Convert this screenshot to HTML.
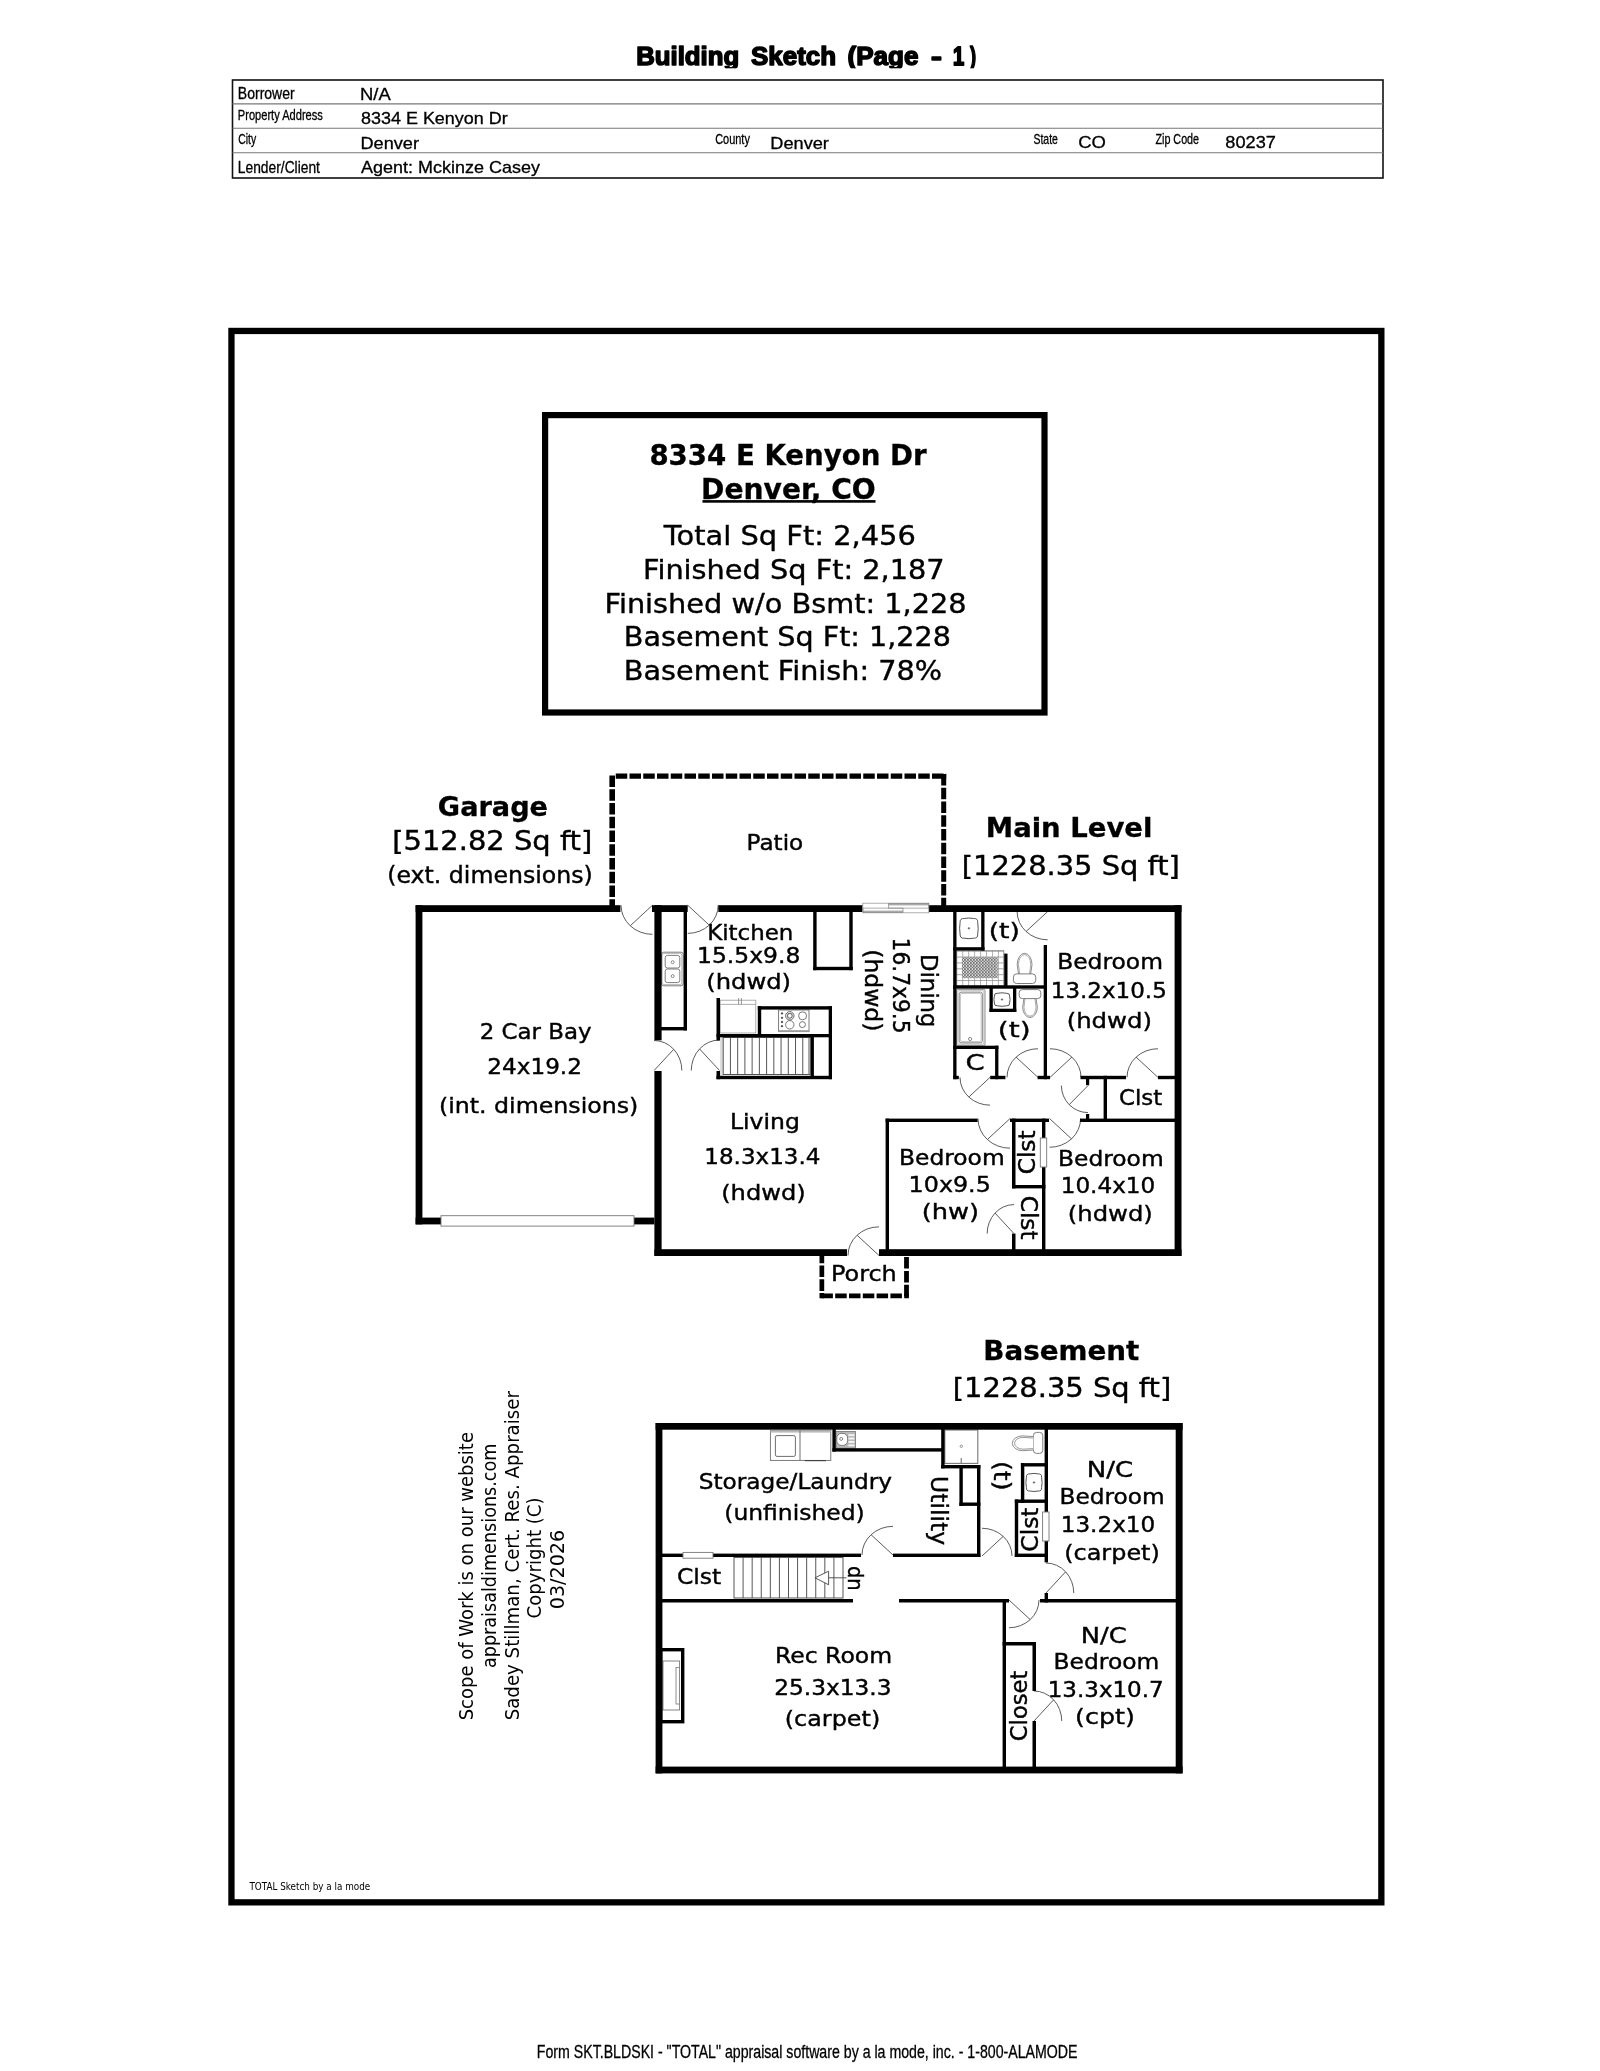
<!DOCTYPE html>
<html lang="en"><head><meta charset="utf-8"><title>Building Sketch (Page - 1)</title>
<style>html,body{margin:0;padding:0;background:#fff}svg{display:block;will-change:transform;filter:grayscale(1)}text{fill:#000}.s{stroke:#000;stroke-width:.4px}.sb{stroke:#000;stroke-width:.3px}.c{stroke:#000;stroke-width:.3px}</style></head><body>
<svg width="1600" height="2071" viewBox="0 0 1600 2071">
<rect width="1600" height="2071" fill="#fff"/>
<!-- page title -->
<clipPath id="tclip"><rect x="600" y="30" width="420" height="38.3"/></clipPath>
<g clip-path="url(#tclip)" stroke="#000" stroke-width="1.5" stroke-linejoin="round">
<text x="636.23" y="65.05" font-size="25.2" font-family="'Liberation Sans',sans-serif" font-weight="bold" textLength="102.89" lengthAdjust="spacingAndGlyphs">Building</text>
<text x="751.09" y="65.05" font-size="25.2" font-family="'Liberation Sans',sans-serif" font-weight="bold" textLength="84.91" lengthAdjust="spacingAndGlyphs">Sketch</text>
<text x="847.5" y="65.05" font-size="25.2" font-family="'Liberation Sans',sans-serif" font-weight="bold" textLength="70.97" lengthAdjust="spacingAndGlyphs">(Page</text>
<text x="930.98" y="65.3" font-size="25.2" font-family="'Liberation Sans',sans-serif" font-weight="bold" textLength="10.86" lengthAdjust="spacingAndGlyphs">-</text>
<text x="952.94" y="65.05" font-size="25.2" font-family="'Liberation Sans',sans-serif" font-weight="bold" textLength="11.18" lengthAdjust="spacingAndGlyphs" stroke-width="1.9">1</text>
<text x="970" y="65.05" font-size="25.2" font-family="'Liberation Sans',sans-serif" font-weight="bold" textLength="6.08" lengthAdjust="spacingAndGlyphs">)</text>
</g>
<!-- header table -->
<rect x="232.5" y="80" width="1150.5" height="98" fill="none" stroke="#111" stroke-width="1.6"/>
<line x1="232.5" y1="103.9" x2="1383" y2="103.9" stroke="#777" stroke-width="1.1"/>
<line x1="232.5" y1="128.3" x2="1383" y2="128.3" stroke="#777" stroke-width="1.1"/>
<line x1="232.5" y1="152.8" x2="1383" y2="152.8" stroke="#777" stroke-width="1.1"/>
<text x="237.83" y="98.9" font-size="16" font-family="'Liberation Sans',sans-serif" class="c" textLength="56.86" lengthAdjust="spacingAndGlyphs">Borrower</text>
<text x="237.86" y="120" font-size="14.2" font-family="'Liberation Sans',sans-serif" class="c" textLength="84.98" lengthAdjust="spacingAndGlyphs">Property Address</text>
<text x="238.23" y="143.8" font-size="14.2" font-family="'Liberation Sans',sans-serif" class="c" textLength="17.94" lengthAdjust="spacingAndGlyphs">City</text>
<text x="237.85" y="173.1" font-size="16" font-family="'Liberation Sans',sans-serif" class="c" textLength="82.09" lengthAdjust="spacingAndGlyphs">Lender/Client</text>
<text x="715.2" y="143.8" font-size="14.2" font-family="'Liberation Sans',sans-serif" class="c" textLength="34.69" lengthAdjust="spacingAndGlyphs">County</text>
<text x="1033.48" y="143.8" font-size="14.2" font-family="'Liberation Sans',sans-serif" class="c" textLength="24.42" lengthAdjust="spacingAndGlyphs">State</text>
<text x="1155.43" y="143.8" font-size="14.2" font-family="'Liberation Sans',sans-serif" class="c" textLength="43.68" lengthAdjust="spacingAndGlyphs">Zip Code</text>
<text x="359.98" y="99.6" font-size="17" font-family="'Liberation Sans',sans-serif" class="c" textLength="30.71" lengthAdjust="spacingAndGlyphs">N/A</text>
<text x="360.99" y="124.4" font-size="17" font-family="'Liberation Sans',sans-serif" class="c" textLength="146.73" lengthAdjust="spacingAndGlyphs">8334 E Kenyon Dr</text>
<text x="360.5" y="148.6" font-size="17" font-family="'Liberation Sans',sans-serif" class="c" textLength="58.44" lengthAdjust="spacingAndGlyphs">Denver</text>
<text x="361.11" y="173.2" font-size="17" font-family="'Liberation Sans',sans-serif" class="c" textLength="178.77" lengthAdjust="spacingAndGlyphs">Agent: Mckinze Casey</text>
<text x="770.29" y="148.6" font-size="17" font-family="'Liberation Sans',sans-serif" class="c" textLength="58.65" lengthAdjust="spacingAndGlyphs">Denver</text>
<text x="1078.23" y="148.4" font-size="17" font-family="'Liberation Sans',sans-serif" class="c" textLength="27.7" lengthAdjust="spacingAndGlyphs">CO</text>
<text x="1225.38" y="148.4" font-size="17" font-family="'Liberation Sans',sans-serif" class="c" textLength="50.55" lengthAdjust="spacingAndGlyphs">80237</text>
<text x="536.82" y="2058" font-size="18.6" font-family="'Liberation Sans',sans-serif" class="c" textLength="540.64" lengthAdjust="spacingAndGlyphs">Form SKT.BLDSKI - &quot;TOTAL&quot; appraisal software by a la mode, inc. - 1-800-ALAMODE</text>
<rect x="231.45" y="330.95" width="1149.9" height="1571.4" fill="none" stroke="#000" stroke-width="6.3"/>
<text x="249.44" y="1890" font-size="9.6" font-family="'DejaVu Sans','Liberation Sans',sans-serif" textLength="120.82" lengthAdjust="spacingAndGlyphs">TOTAL Sketch by a la mode</text>
<rect x="545.1" y="415.1" width="499.4" height="297.4" fill="none" stroke="#000" stroke-width="6.2"/>
<text x="649.39" y="464.9" font-size="28.6" font-family="'DejaVu Sans','Liberation Sans',sans-serif" font-weight="bold" class="sb" textLength="277.23" lengthAdjust="spacingAndGlyphs">8334 E Kenyon Dr</text>
<text x="701.12" y="498.9" font-size="28.6" font-family="'DejaVu Sans','Liberation Sans',sans-serif" font-weight="bold" class="sb" textLength="174.67" lengthAdjust="spacingAndGlyphs">Denver, CO</text>
<rect x="702.5" y="500.1" width="173" height="2.6" fill="#000"/>
<text x="663.89" y="545" font-size="27" font-family="'DejaVu Sans','Liberation Sans',sans-serif" class="s" textLength="251.91" lengthAdjust="spacingAndGlyphs">Total Sq Ft: 2,456</text>
<text x="642.94" y="578.8" font-size="27" font-family="'DejaVu Sans','Liberation Sans',sans-serif" class="s" textLength="301.74" lengthAdjust="spacingAndGlyphs">Finished Sq Ft: 2,187</text>
<text x="604.44" y="612.5" font-size="27" font-family="'DejaVu Sans','Liberation Sans',sans-serif" class="s" textLength="362.25" lengthAdjust="spacingAndGlyphs">Finished w/o Bsmt: 1,228</text>
<text x="623.86" y="645.5" font-size="27" font-family="'DejaVu Sans','Liberation Sans',sans-serif" class="s" textLength="327.04" lengthAdjust="spacingAndGlyphs">Basement Sq Ft: 1,228</text>
<text x="623.85" y="680" font-size="27" font-family="'DejaVu Sans','Liberation Sans',sans-serif" class="s" textLength="318.07" lengthAdjust="spacingAndGlyphs">Basement Finish: 78%</text>
<!-- main level -->
<line x1="652.5" y1="905.2" x2="630.23" y2="925.8" stroke="#4a4a4a" stroke-width="0.9"/>
<path d="M621 905.2A31.5 29.14 0 0 0 652.5 934.34" fill="none" stroke="#4a4a4a" stroke-width="0.9"/>
<line x1="687.7" y1="905.2" x2="709.27" y2="925.15" stroke="#4a4a4a" stroke-width="0.9"/>
<path d="M718.2 905.2A30.5 28.21 0 0 1 687.7 933.41" fill="none" stroke="#4a4a4a" stroke-width="0.9"/>
<line x1="654.1" y1="1070.5" x2="673.72" y2="1049.29" stroke="#4a4a4a" stroke-width="0.9"/>
<path d="M654.1 1040.5A27.75 30 0 0 1 681.85 1070.5" fill="none" stroke="#4a4a4a" stroke-width="0.9"/>
<line x1="719.5" y1="1070.5" x2="699.55" y2="1048.93" stroke="#4a4a4a" stroke-width="0.9"/>
<path d="M719.5 1040A28.21 30.5 0 0 0 691.29 1070.5" fill="none" stroke="#4a4a4a" stroke-width="0.9"/>
<line x1="879" y1="1255.5" x2="857.08" y2="1235.22" stroke="#4a4a4a" stroke-width="0.9"/>
<path d="M848 1255.5A31 28.68 0 0 1 879 1226.83" fill="none" stroke="#4a4a4a" stroke-width="0.9"/>
<line x1="1047.7" y1="911.5" x2="1026.06" y2="931.51" stroke="#4a4a4a" stroke-width="0.9"/>
<path d="M1017.1 911.5A30.6 28.31 0 0 0 1047.7 939.8" fill="none" stroke="#4a4a4a" stroke-width="0.9"/>
<line x1="990" y1="1077.4" x2="968.79" y2="1097.02" stroke="#4a4a4a" stroke-width="0.9"/>
<path d="M960 1077.4A30 27.75 0 0 0 990 1105.15" fill="none" stroke="#4a4a4a" stroke-width="0.9"/>
<line x1="1038" y1="1077.4" x2="1016.08" y2="1057.12" stroke="#4a4a4a" stroke-width="0.9"/>
<path d="M1007 1077.4A31 28.68 0 0 1 1038 1048.73" fill="none" stroke="#4a4a4a" stroke-width="0.9"/>
<line x1="1050" y1="1077.4" x2="1071.92" y2="1057.12" stroke="#4a4a4a" stroke-width="0.9"/>
<path d="M1081 1077.4A31 28.68 0 0 0 1050 1048.73" fill="none" stroke="#4a4a4a" stroke-width="0.9"/>
<line x1="1158" y1="1077.4" x2="1136.08" y2="1057.12" stroke="#4a4a4a" stroke-width="0.9"/>
<path d="M1127 1077.4A31 28.68 0 0 1 1158 1048.73" fill="none" stroke="#4a4a4a" stroke-width="0.9"/>
<line x1="1088" y1="1085.6" x2="1069.19" y2="1104.69" stroke="#4a4a4a" stroke-width="0.9"/>
<path d="M1088 1112.6A26.6 27 0 0 1 1061.4 1085.6" fill="none" stroke="#4a4a4a" stroke-width="0.9"/>
<line x1="1010" y1="1118.6" x2="987.37" y2="1139.53" stroke="#4a4a4a" stroke-width="0.9"/>
<path d="M978 1118.6A32 29.6 0 0 0 1010 1148.2" fill="none" stroke="#4a4a4a" stroke-width="0.9"/>
<line x1="1049.6" y1="1118.6" x2="1071.52" y2="1138.88" stroke="#4a4a4a" stroke-width="0.9"/>
<path d="M1080.6 1118.6A31 28.68 0 0 1 1049.6 1147.27" fill="none" stroke="#4a4a4a" stroke-width="0.9"/>
<line x1="1014" y1="1233.6" x2="995.03" y2="1213.09" stroke="#4a4a4a" stroke-width="0.9"/>
<path d="M1014 1204.6A26.83 29 0 0 0 987.17 1233.6" fill="none" stroke="#4a4a4a" stroke-width="0.9"/>
<rect x="720" y="1037.3" width="3.2" height="38.5" fill="#ddd"/>
<rect x="723.2" y="1037.5" width="86.8" height="37" fill="#fff" stroke="#444" stroke-width="0.9"/>
<line x1="730.43" y1="1037.5" x2="730.43" y2="1074.5" stroke="#444" stroke-width="0.9"/>
<line x1="737.67" y1="1037.5" x2="737.67" y2="1074.5" stroke="#444" stroke-width="0.9"/>
<line x1="744.9" y1="1037.5" x2="744.9" y2="1074.5" stroke="#444" stroke-width="0.9"/>
<line x1="752.13" y1="1037.5" x2="752.13" y2="1074.5" stroke="#444" stroke-width="0.9"/>
<line x1="759.37" y1="1037.5" x2="759.37" y2="1074.5" stroke="#444" stroke-width="0.9"/>
<line x1="766.6" y1="1037.5" x2="766.6" y2="1074.5" stroke="#444" stroke-width="0.9"/>
<line x1="773.83" y1="1037.5" x2="773.83" y2="1074.5" stroke="#444" stroke-width="0.9"/>
<line x1="781.07" y1="1037.5" x2="781.07" y2="1074.5" stroke="#444" stroke-width="0.9"/>
<line x1="788.3" y1="1037.5" x2="788.3" y2="1074.5" stroke="#444" stroke-width="0.9"/>
<line x1="795.53" y1="1037.5" x2="795.53" y2="1074.5" stroke="#444" stroke-width="0.9"/>
<line x1="802.77" y1="1037.5" x2="802.77" y2="1074.5" stroke="#444" stroke-width="0.9"/>
<line x1="808.6" y1="1037.5" x2="808.6" y2="1074.5" stroke="#888" stroke-width="0.8"/>
<rect x="661.4" y="952.2" width="21.8" height="33.6" rx="2.2" fill="#fff" stroke="#6e6e6e" stroke-width="0.9"/>
<rect x="662.2" y="953.4" width="19.6" height="31.2" rx="2" fill="none" stroke="#9a9a9a" stroke-width="0.7"/>
<rect x="665.2" y="955.4" width="14.6" height="12.6" rx="2.2" fill="none" stroke="#6e6e6e" stroke-width="0.9"/>
<rect x="665.2" y="969" width="14.6" height="13.6" rx="2.2" fill="none" stroke="#6e6e6e" stroke-width="0.9"/>
<circle cx="672.7" cy="962.2" r="1.5" fill="none" stroke="#6e6e6e" stroke-width="0.8"/>
<circle cx="672.7" cy="976.1" r="1.5" fill="none" stroke="#6e6e6e" stroke-width="0.8"/>
<rect x="720.2" y="1000.2" width="35.6" height="32.8" fill="#fff" stroke="#9a9a9a" stroke-width="0.8"/>
<line x1="720.2" y1="1004.4" x2="755.8" y2="1004.4" stroke="#9a9a9a" stroke-width="0.8"/>
<line x1="738.6" y1="998" x2="738.6" y2="1004.4" stroke="#6e6e6e" stroke-width="0.7"/>
<line x1="741.4" y1="998" x2="741.4" y2="1004.4" stroke="#6e6e6e" stroke-width="0.7"/>
<rect x="778.6" y="1010" width="30.4" height="21.6" fill="#fff" stroke="#6e6e6e" stroke-width="0.9"/>
<rect x="778.6" y="1030.2" width="30.4" height="1.8" fill="#9a9a9a"/>
<circle cx="789.8" cy="1015.8" r="4.2" fill="none" stroke="#555" stroke-width="0.9"/>
<circle cx="789.8" cy="1015.8" r="2.4" fill="none" stroke="#777" stroke-width="1.2"/>
<circle cx="802.6" cy="1015.8" r="4" fill="none" stroke="#555" stroke-width="0.8"/>
<circle cx="789.8" cy="1024.8" r="4.2" fill="none" stroke="#555" stroke-width="0.8"/>
<circle cx="802.4" cy="1024.6" r="3" fill="none" stroke="#555" stroke-width="0.8"/>
<circle cx="782" cy="1013.4" r="0.9" fill="#333" stroke="#333" stroke-width="0.3"/>
<circle cx="782" cy="1017.8" r="0.9" fill="#333" stroke="#333" stroke-width="0.3"/>
<circle cx="782" cy="1022" r="0.9" fill="#333" stroke="#333" stroke-width="0.3"/>
<circle cx="782" cy="1026.2" r="0.9" fill="#333" stroke="#333" stroke-width="0.3"/>
<path d="M964.17 918.5Q968.9 917.5 973.63 918.5Q978 918.2 977.7 922.57Q978.7 928.35 977.7 934.13Q978 938.5 973.63 938.2Q968.9 939.2 964.17 938.2Q959.8 938.5 960.1 934.13Q959.1 928.35 960.1 922.57Q959.8 918.2 964.17 918.5Z" fill="#fff" stroke="#555" stroke-width="1" stroke-linejoin="round"/>
<circle cx="968.9" cy="928.35" r="0.8" fill="#555" stroke="#555" stroke-width="0.5"/>
<pattern id="xh" x="961.9" y="956.8" width="2.98" height="3.06" patternUnits="userSpaceOnUse"><path d="M0 0L2.98 3.06M2.98 0L0 3.06" stroke="#111" stroke-width="0.58"/></pattern>
<pattern id="tl" x="956.3" y="950.7" width="5.94" height="5.87" patternUnits="userSpaceOnUse"><rect width="5.94" height="5.87" fill="#fff"/><path d="M0 0H5.94M0 0V5.87" stroke="#888" stroke-width="1.3"/></pattern>
<rect x="956.3" y="950.7" width="47.5" height="35.2" fill="url(#tl)" stroke="#888" stroke-width="0.9"/>
<rect x="961.9" y="956.8" width="35.8" height="21.4" fill="#fff"/>
<rect x="961.9" y="956.8" width="35.8" height="21.4" fill="url(#xh)"/>
<path d="M1018.53 973.9L1017.2 964.63A7.4 11.33 0 0 1 1032 964.63L1030.67 973.9" fill="#fff" stroke="#6e6e6e" stroke-width="0.8"/>
<path d="M1019.6 973.9L1018.5 964.63A6.1 10.03 0 0 1 1030.7 964.63L1029.6 973.9" fill="none" stroke="#6e6e6e" stroke-width="0.6"/>
<rect x="1013.45" y="973.9" width="22.3" height="9.6" rx="3.2" fill="#fff" stroke="#6e6e6e" stroke-width="0.9"/>
<path d="M1023.97 998.6L1022.65 1007.11A7.35 10.39 0 0 0 1037.35 1007.11L1036.03 998.6" fill="#fff" stroke="#6e6e6e" stroke-width="0.8"/>
<path d="M1025.04 998.6L1023.95 1007.11A6.05 9.09 0 0 0 1036.05 1007.11L1034.96 998.6" fill="none" stroke="#6e6e6e" stroke-width="0.6"/>
<rect x="1019.15" y="989.6" width="21.7" height="9" rx="3.2" fill="#fff" stroke="#6e6e6e" stroke-width="0.9"/>
<rect x="956.6" y="989.5" width="28.4" height="55.7" rx="1" fill="#fff" stroke="#9a9a9a" stroke-width="1.1"/>
<rect x="957.8" y="990.7" width="26" height="53.3" rx="1" fill="none" stroke="#9a9a9a" stroke-width="0.6"/>
<rect x="959.2" y="992.2" width="23.2" height="50.6" rx="2" fill="none" stroke="#6e6e6e" stroke-width="0.8"/>
<rect x="960.4" y="993.4" width="20.8" height="48.2" rx="1.6" fill="none" stroke="#9a9a9a" stroke-width="0.6"/>
<circle cx="970.1" cy="1039" r="1.6" fill="none" stroke="#6e6e6e" stroke-width="0.8"/>
<path d="M997.24 993.3Q1002 992.3 1006.76 993.3Q1009.9 993 1009.6 996.14Q1010.6 999.55 1009.6 1002.96Q1009.9 1006.1 1006.76 1005.8Q1002 1006.8 997.24 1005.8Q994.1 1006.1 994.4 1002.96Q993.4 999.55 994.4 996.14Q994.1 993 997.24 993.3Z" fill="#fff" stroke="#555" stroke-width="1" stroke-linejoin="round"/>
<circle cx="1002" cy="999.55" r="0.8" fill="#555" stroke="#555" stroke-width="0.5"/>
<line x1="612.2" y1="910.8" x2="612.2" y2="773.5" stroke="#000" stroke-width="5.6" stroke-dasharray="11.5 2.25"/>
<line x1="615.75" y1="776.15" x2="946.2" y2="776.15" stroke="#000" stroke-width="5.3" stroke-dasharray="11.5 2.25"/>
<line x1="943.7" y1="774" x2="943.7" y2="910" stroke="#000" stroke-width="5" stroke-dasharray="11.5 2.25"/>
<line x1="821.85" y1="1251.6" x2="821.85" y2="1298.2" stroke="#000" stroke-width="4.7" stroke-dasharray="11.7 2.1"/>
<line x1="821.4" y1="1295.8" x2="908.9" y2="1295.8" stroke="#000" stroke-width="4.8" stroke-dasharray="11.5 2.3"/>
<line x1="906.5" y1="1296.3" x2="906.5" y2="1256" stroke="#000" stroke-width="4.8" stroke-dasharray="11.5 2.4"/>
<rect x="415.6" y="905.2" width="204.8" height="6.8" fill="#000"/>
<rect x="652" y="905.2" width="35.7" height="6.8" fill="#000"/>
<rect x="718.3" y="905.2" width="144.4" height="6.8" fill="#000"/>
<rect x="928.6" y="905.2" width="252.9" height="6.8" fill="#000"/>
<rect x="415.6" y="905.2" width="6.8" height="319.2" fill="#000"/>
<rect x="415.6" y="1217.6" width="25.4" height="6.8" fill="#000"/>
<rect x="634" y="1217.6" width="20.4" height="6.8" fill="#000"/>
<rect x="654.4" y="905.2" width="7.2" height="135.1" fill="#000"/>
<rect x="654.4" y="1071" width="7.2" height="185" fill="#000"/>
<rect x="654.4" y="1249.2" width="192.6" height="6.8" fill="#000"/>
<rect x="879" y="1249.2" width="302.5" height="6.8" fill="#000"/>
<rect x="1174.6" y="905.2" width="6.9" height="350.8" fill="#000"/>
<rect x="441" y="1215.7" width="193" height="10.4" fill="#fff" stroke="#777" stroke-width="0.9"/>
<rect x="862.8" y="903.2" width="66" height="9.6" fill="#fff" stroke="#999" stroke-width="0.8"/>
<rect x="888.5" y="903.6" width="40.1" height="1.8" fill="#aaa"/>
<rect x="863" y="910.6" width="40" height="1.8" fill="#aaa"/>
<rect x="888.5" y="903.4" width="40.2" height="4.7" fill="none" stroke="#888" stroke-width="0.7"/>
<rect x="863" y="908.1" width="40" height="4.5" fill="none" stroke="#888" stroke-width="0.7"/>
<rect x="683.6" y="911" width="3.4" height="119.4" fill="#000"/>
<rect x="661" y="1027" width="26" height="3.4" fill="#000"/>
<rect x="813.2" y="911" width="3.4" height="59.2" fill="#000"/>
<rect x="849.3" y="911" width="3.4" height="59.2" fill="#000"/>
<rect x="813.2" y="966.8" width="39.5" height="3.4" fill="#000"/>
<rect x="716.5" y="998" width="3.5" height="42.5" fill="#000"/>
<rect x="716.5" y="1071" width="3.5" height="8.2" fill="#000"/>
<rect x="716.5" y="1034" width="115.5" height="3.3" fill="#000"/>
<rect x="716.5" y="1075.8" width="115.5" height="3.4" fill="#000"/>
<rect x="828.7" y="1006.2" width="3.3" height="73" fill="#000"/>
<rect x="757.8" y="1006.2" width="3.4" height="30.8" fill="#000"/>
<rect x="757.8" y="1006.2" width="74.2" height="3.4" fill="#000"/>
<rect x="810.5" y="1037" width="3.4" height="39" fill="#000"/>
<rect x="953.2" y="911" width="3.3" height="168.2" fill="#000"/>
<rect x="981.2" y="911" width="3.3" height="39.5" fill="#000"/>
<rect x="953.2" y="947.2" width="31.3" height="3.3" fill="#000"/>
<rect x="1004.2" y="953.6" width="3.3" height="34.4" fill="#000"/>
<rect x="953.2" y="985.3" width="93.8" height="3.4" fill="#000"/>
<rect x="1043.7" y="945" width="3.3" height="134.2" fill="#000"/>
<rect x="989.5" y="988" width="3.3" height="24" fill="#000"/>
<rect x="1013" y="988" width="3.3" height="24" fill="#000"/>
<rect x="989.5" y="1008.7" width="26.8" height="3.3" fill="#000"/>
<rect x="953.2" y="1045.7" width="45.2" height="3.3" fill="#000"/>
<rect x="995.1" y="1045.7" width="3.3" height="33.5" fill="#000"/>
<rect x="953.2" y="1075.8" width="5.6" height="3.4" fill="#000"/>
<rect x="990.2" y="1075.8" width="15.2" height="3.4" fill="#000"/>
<rect x="1037.6" y="1075.8" width="12.4" height="3.4" fill="#000"/>
<rect x="1080.5" y="1075.8" width="45.5" height="3.4" fill="#000"/>
<rect x="1158" y="1075.8" width="17" height="3.4" fill="#000"/>
<rect x="1103.6" y="1075.8" width="3.4" height="46.2" fill="#000"/>
<rect x="1086" y="1079" width="3.2" height="6.2" fill="#000"/>
<rect x="1086" y="1114" width="3.2" height="5" fill="#000"/>
<rect x="1080" y="1118.6" width="95" height="3.4" fill="#000"/>
<rect x="885.6" y="1118.6" width="3.4" height="131.4" fill="#000"/>
<rect x="885.6" y="1118.6" width="92" height="3.4" fill="#000"/>
<rect x="1010" y="1118.6" width="39" height="3.4" fill="#000"/>
<rect x="1012" y="1118.6" width="3.5" height="69.8" fill="#000"/>
<rect x="1012" y="1233.6" width="3.5" height="16.4" fill="#000"/>
<rect x="1042" y="1118.6" width="3.4" height="131.4" fill="#000"/>
<rect x="1012" y="1185" width="33.4" height="3.4" fill="#000"/>
<rect x="1040.3" y="1138" width="6.4" height="29" fill="#fff" stroke="#777" stroke-width="0.9"/>
<text x="437.89" y="816" font-size="26.5" font-family="'DejaVu Sans','Liberation Sans',sans-serif" font-weight="bold" class="sb" textLength="110.15" lengthAdjust="spacingAndGlyphs">Garage</text>
<text x="392.19" y="849.6" font-size="26.3" font-family="'DejaVu Sans','Liberation Sans',sans-serif" class="s" textLength="200.06" lengthAdjust="spacingAndGlyphs">[512.82 Sq ft]</text>
<text x="387.24" y="882.5" font-size="22.2" font-family="'DejaVu Sans','Liberation Sans',sans-serif" class="s" textLength="205.49" lengthAdjust="spacingAndGlyphs">(ext. dimensions)</text>
<text x="746.49" y="850" font-size="21.8" font-family="'DejaVu Sans','Liberation Sans',sans-serif" class="s" textLength="56.73" lengthAdjust="spacingAndGlyphs">Patio</text>
<text x="985.78" y="837.4" font-size="26.5" font-family="'DejaVu Sans','Liberation Sans',sans-serif" font-weight="bold" class="sb" textLength="166.67" lengthAdjust="spacingAndGlyphs">Main Level</text>
<text x="961.79" y="875" font-size="26.3" font-family="'DejaVu Sans','Liberation Sans',sans-serif" class="s" textLength="218.01" lengthAdjust="spacingAndGlyphs">[1228.35 Sq ft]</text>
<text x="707.22" y="940.1" font-size="21.8" font-family="'DejaVu Sans','Liberation Sans',sans-serif" class="s" textLength="86.15" lengthAdjust="spacingAndGlyphs">Kitchen</text>
<text x="697.07" y="962.9" font-size="21.8" font-family="'DejaVu Sans','Liberation Sans',sans-serif" class="s" textLength="103.29" lengthAdjust="spacingAndGlyphs">15.5x9.8</text>
<text x="706.19" y="989.2" font-size="21.8" font-family="'DejaVu Sans','Liberation Sans',sans-serif" class="s" textLength="84.9" lengthAdjust="spacingAndGlyphs">(hdwd)</text>
<text transform="translate(920.9 956.25) rotate(90)" x="-2.21" y="0" font-size="22.4" font-family="'DejaVu Sans','Liberation Sans',sans-serif" class="s" textLength="73.32" lengthAdjust="spacingAndGlyphs">Dining</text>
<text transform="translate(893.1 940) rotate(90)" x="-2.39" y="0" font-size="23.4" font-family="'DejaVu Sans','Liberation Sans',sans-serif" class="s" textLength="95.87" lengthAdjust="spacingAndGlyphs">16.7x9.5</text>
<text transform="translate(864.7 951.25) rotate(90)" x="-1.99" y="0" font-size="22.6" font-family="'DejaVu Sans','Liberation Sans',sans-serif" class="s" textLength="82.11" lengthAdjust="spacingAndGlyphs">(hdwd)</text>
<text x="988.69" y="937.5" font-size="21.8" font-family="'DejaVu Sans','Liberation Sans',sans-serif" class="s" textLength="31.23" lengthAdjust="spacingAndGlyphs">(t)</text>
<text x="997.88" y="1036.8" font-size="21.8" font-family="'DejaVu Sans','Liberation Sans',sans-serif" class="s" textLength="32.75" lengthAdjust="spacingAndGlyphs">(t)</text>
<text x="965.64" y="1069.6" font-size="21.8" font-family="'DejaVu Sans','Liberation Sans',sans-serif" class="s" textLength="19.17" lengthAdjust="spacingAndGlyphs">C</text>
<text x="1057.17" y="969" font-size="21.8" font-family="'DejaVu Sans','Liberation Sans',sans-serif" class="s" textLength="105.82" lengthAdjust="spacingAndGlyphs">Bedroom</text>
<text x="1050.82" y="997.8" font-size="21.8" font-family="'DejaVu Sans','Liberation Sans',sans-serif" class="s" textLength="115.98" lengthAdjust="spacingAndGlyphs">13.2x10.5</text>
<text x="1066.68" y="1027.9" font-size="21.8" font-family="'DejaVu Sans','Liberation Sans',sans-serif" class="s" textLength="85.21" lengthAdjust="spacingAndGlyphs">(hdwd)</text>
<text x="479.69" y="1038.8" font-size="21.8" font-family="'DejaVu Sans','Liberation Sans',sans-serif" class="s" textLength="111.84" lengthAdjust="spacingAndGlyphs">2 Car Bay</text>
<text x="487.37" y="1074.3" font-size="21.8" font-family="'DejaVu Sans','Liberation Sans',sans-serif" class="s" textLength="94.55" lengthAdjust="spacingAndGlyphs">24x19.2</text>
<text x="438.94" y="1113.4" font-size="21.8" font-family="'DejaVu Sans','Liberation Sans',sans-serif" class="s" textLength="199.35" lengthAdjust="spacingAndGlyphs">(int. dimensions)</text>
<text x="729.96" y="1129" font-size="21.8" font-family="'DejaVu Sans','Liberation Sans',sans-serif" class="s" textLength="69.93" lengthAdjust="spacingAndGlyphs">Living</text>
<text x="704.32" y="1163.6" font-size="21.8" font-family="'DejaVu Sans','Liberation Sans',sans-serif" class="s" textLength="116.1" lengthAdjust="spacingAndGlyphs">18.3x13.4</text>
<text x="721.2" y="1200" font-size="21.8" font-family="'DejaVu Sans','Liberation Sans',sans-serif" class="s" textLength="84.58" lengthAdjust="spacingAndGlyphs">(hdwd)</text>
<text x="830.92" y="1281" font-size="21.8" font-family="'DejaVu Sans','Liberation Sans',sans-serif" class="s" textLength="65.86" lengthAdjust="spacingAndGlyphs">Porch</text>
<text x="1118.99" y="1105" font-size="21.8" font-family="'DejaVu Sans','Liberation Sans',sans-serif" class="s" textLength="43.26" lengthAdjust="spacingAndGlyphs">Clst</text>
<text x="898.97" y="1165.4" font-size="21.8" font-family="'DejaVu Sans','Liberation Sans',sans-serif" class="s" textLength="105.72" lengthAdjust="spacingAndGlyphs">Bedroom</text>
<text x="908.63" y="1192" font-size="21.8" font-family="'DejaVu Sans','Liberation Sans',sans-serif" class="s" textLength="82.19" lengthAdjust="spacingAndGlyphs">10x9.5</text>
<text x="921.67" y="1219.4" font-size="21.8" font-family="'DejaVu Sans','Liberation Sans',sans-serif" class="s" textLength="57.25" lengthAdjust="spacingAndGlyphs">(hw)</text>
<text x="1057.97" y="1166.4" font-size="21.8" font-family="'DejaVu Sans','Liberation Sans',sans-serif" class="s" textLength="105.72" lengthAdjust="spacingAndGlyphs">Bedroom</text>
<text x="1060.71" y="1193" font-size="21.8" font-family="'DejaVu Sans','Liberation Sans',sans-serif" class="s" textLength="94.57" lengthAdjust="spacingAndGlyphs">10.4x10</text>
<text x="1067.79" y="1221" font-size="21.8" font-family="'DejaVu Sans','Liberation Sans',sans-serif" class="s" textLength="85" lengthAdjust="spacingAndGlyphs">(hdwd)</text>
<text transform="translate(1035 1173) rotate(-90)" x="-1.27" y="0" font-size="23" font-family="'DejaVu Sans','Liberation Sans',sans-serif" class="s" textLength="43.78" lengthAdjust="spacingAndGlyphs">Clst</text>
<text transform="translate(1020.6 1197) rotate(90)" x="-1.27" y="0" font-size="23" font-family="'DejaVu Sans','Liberation Sans',sans-serif" class="s" textLength="43.78" lengthAdjust="spacingAndGlyphs">Clst</text>
<!-- basement -->
<line x1="893" y1="1555" x2="871.08" y2="1534.72" stroke="#4a4a4a" stroke-width="0.9"/>
<path d="M862 1555A31 28.68 0 0 1 893 1526.33" fill="none" stroke="#4a4a4a" stroke-width="0.9"/>
<line x1="982" y1="1556" x2="1003.21" y2="1536.38" stroke="#4a4a4a" stroke-width="0.9"/>
<path d="M1012 1556A30 27.75 0 0 0 982 1528.25" fill="none" stroke="#4a4a4a" stroke-width="0.9"/>
<line x1="1046" y1="1593" x2="1065.62" y2="1571.79" stroke="#4a4a4a" stroke-width="0.9"/>
<path d="M1046 1563A27.75 30 0 0 1 1073.75 1593" fill="none" stroke="#4a4a4a" stroke-width="0.9"/>
<line x1="1009" y1="1600" x2="1030.21" y2="1619.62" stroke="#4a4a4a" stroke-width="0.9"/>
<path d="M1039 1600A30 27.75 0 0 1 1009 1627.75" fill="none" stroke="#4a4a4a" stroke-width="0.9"/>
<line x1="1034" y1="1721" x2="1053.62" y2="1699.79" stroke="#4a4a4a" stroke-width="0.9"/>
<path d="M1034 1691A27.75 30 0 0 1 1061.75 1721" fill="none" stroke="#4a4a4a" stroke-width="0.9"/>
<rect x="734" y="1557.4" width="109" height="40.6" fill="#fff" stroke="#444" stroke-width="0.9"/>
<line x1="743.08" y1="1557.4" x2="743.08" y2="1598" stroke="#444" stroke-width="0.9"/>
<line x1="752.17" y1="1557.4" x2="752.17" y2="1598" stroke="#444" stroke-width="0.9"/>
<line x1="761.25" y1="1557.4" x2="761.25" y2="1598" stroke="#444" stroke-width="0.9"/>
<line x1="770.33" y1="1557.4" x2="770.33" y2="1598" stroke="#444" stroke-width="0.9"/>
<line x1="779.42" y1="1557.4" x2="779.42" y2="1598" stroke="#444" stroke-width="0.9"/>
<line x1="788.5" y1="1557.4" x2="788.5" y2="1598" stroke="#444" stroke-width="0.9"/>
<line x1="797.58" y1="1557.4" x2="797.58" y2="1598" stroke="#444" stroke-width="0.9"/>
<line x1="806.67" y1="1557.4" x2="806.67" y2="1598" stroke="#444" stroke-width="0.9"/>
<line x1="815.75" y1="1557.4" x2="815.75" y2="1598" stroke="#444" stroke-width="0.9"/>
<line x1="824.83" y1="1557.4" x2="824.83" y2="1598" stroke="#444" stroke-width="0.9"/>
<line x1="833.92" y1="1557.4" x2="833.92" y2="1598" stroke="#444" stroke-width="0.9"/>
<line x1="815" y1="1577.8" x2="846.5" y2="1577.8" stroke="#444" stroke-width="0.9"/>
<path d="M815 1577.8L828.6 1571.2V1584.8Z" fill="#fff" stroke="#444" stroke-width="0.9"/>
<rect x="770.4" y="1430.4" width="60.4" height="30" fill="#fff" stroke="#6e6e6e" stroke-width="0.9"/>
<rect x="770.4" y="1430.4" width="60.4" height="2.2" fill="#bbb"/>
<line x1="800" y1="1430.4" x2="800" y2="1460.4" stroke="#6e6e6e" stroke-width="1"/>
<rect x="775.4" y="1435.6" width="20" height="20.8" rx="1.6" fill="none" stroke="#6e6e6e" stroke-width="1"/>
<line x1="804.8" y1="1460.6" x2="826" y2="1460.6" stroke="#444" stroke-width="1.2"/>
<rect x="836" y="1431.4" width="19.5" height="16.8" fill="#b8b8b8" stroke="#666" stroke-width="0.7"/>
<rect x="836.8" y="1433.4" width="10.8" height="12" rx="4.6" fill="#fff" stroke="#555" stroke-width="0.7"/>
<circle cx="841.2" cy="1438.9" r="1.5" fill="none" stroke="#555" stroke-width="0.7"/>
<rect x="848.4" y="1434.2" width="6" height="1.9" fill="#f4f4f4"/>
<rect x="848.4" y="1437.6" width="6" height="1.9" fill="#f4f4f4"/>
<rect x="848.4" y="1441" width="6" height="1.9" fill="#f4f4f4"/>
<rect x="848.4" y="1444.4" width="6" height="1.9" fill="#f4f4f4"/>
<rect x="944.8" y="1430" width="33" height="33.4" fill="#fff" stroke="#777" stroke-width="1.1"/>
<circle cx="961.3" cy="1446.3" r="1.2" fill="none" stroke="#6e6e6e" stroke-width="0.7"/>
<rect x="960.6" y="1458" width="1.3" height="5" fill="#888"/>
<rect x="1033.4" y="1432.4" width="9.4" height="21" rx="3.2" fill="#fff" stroke="#6e6e6e" stroke-width="0.9"/>
<path d="M1033.4 1436.6L1022.5 1435.9A10.2 7.4 0 0 0 1022.5 1450.7L1033.4 1450" fill="#fff" stroke="#6e6e6e" stroke-width="0.8"/>
<path d="M1033 1438L1023 1437.4A8.4 5.9 0 0 0 1023 1449.2L1033 1448.6" fill="none" stroke="#6e6e6e" stroke-width="0.7"/>
<path d="M1029.89 1473.9Q1034 1472.9 1038.11 1473.9Q1041.9 1473.6 1041.6 1477.39Q1042.6 1482.45 1041.6 1487.51Q1041.9 1491.3 1038.11 1491Q1034 1492 1029.89 1491Q1026.1 1491.3 1026.4 1487.51Q1025.4 1482.45 1026.4 1477.39Q1026.1 1473.6 1029.89 1473.9Z" fill="#fff" stroke="#555" stroke-width="1" stroke-linejoin="round"/>
<circle cx="1034" cy="1482.45" r="0.8" fill="#555" stroke="#555" stroke-width="0.5"/>
<rect x="663" y="1661" width="16.6" height="49" fill="#fff" stroke="#777" stroke-width="0.9"/>
<rect x="676" y="1667.4" width="3.6" height="36.6" fill="#fff" stroke="#777" stroke-width="0.8"/>
<rect x="655.6" y="1423" width="527" height="6.7" fill="#000"/>
<rect x="655.6" y="1766.6" width="527" height="6.8" fill="#000"/>
<rect x="655.6" y="1423" width="6.8" height="350.4" fill="#000"/>
<rect x="1175.7" y="1423" width="6.9" height="350.4" fill="#000"/>
<rect x="832.4" y="1429" width="3.4" height="22.6" fill="#000"/>
<rect x="832.4" y="1448.2" width="109.6" height="3.4" fill="#000"/>
<rect x="941.2" y="1429" width="3.4" height="39.4" fill="#000"/>
<rect x="941.2" y="1465" width="39.2" height="3.4" fill="#000"/>
<rect x="959.4" y="1468" width="3.4" height="37.9" fill="#000"/>
<rect x="959.4" y="1502.5" width="21" height="3.4" fill="#000"/>
<rect x="977" y="1465" width="3.4" height="92" fill="#000"/>
<rect x="662" y="1553.6" width="199" height="3.4" fill="#000"/>
<rect x="893" y="1553.6" width="87.4" height="3.4" fill="#000"/>
<rect x="683" y="1552.4" width="30" height="5.8" fill="#fff" stroke="#777" stroke-width="0.9"/>
<rect x="662" y="1599" width="191" height="3.5" fill="#000"/>
<rect x="899" y="1599" width="110" height="3.5" fill="#000"/>
<rect x="1040" y="1599" width="136" height="3.5" fill="#000"/>
<rect x="1044.6" y="1429" width="3.4" height="133.4" fill="#000"/>
<rect x="1044.6" y="1593" width="3.4" height="9.5" fill="#000"/>
<rect x="1042.6" y="1512" width="6.4" height="29" fill="#fff" stroke="#777" stroke-width="0.9"/>
<rect x="1020.9" y="1463.1" width="3.4" height="39.9" fill="#000"/>
<rect x="1020.9" y="1463.1" width="24.1" height="3.4" fill="#000"/>
<rect x="1014.8" y="1499.5" width="3.4" height="57.5" fill="#000"/>
<rect x="1014.8" y="1499.5" width="30.2" height="3.4" fill="#000"/>
<rect x="1014.8" y="1553.6" width="33.2" height="3.4" fill="#000"/>
<rect x="1002.6" y="1599" width="3.4" height="168" fill="#000"/>
<rect x="1002.6" y="1642" width="33.4" height="3.5" fill="#000"/>
<rect x="1032.5" y="1642" width="3.5" height="49" fill="#000"/>
<rect x="1032.5" y="1721" width="3.5" height="46" fill="#000"/>
<rect x="660.7" y="1649.7" width="22" height="72" fill="none" stroke="#000" stroke-width="3.4"/>
<text x="983.35" y="1359.6" font-size="26.5" font-family="'DejaVu Sans','Liberation Sans',sans-serif" font-weight="bold" class="sb" textLength="156.04" lengthAdjust="spacingAndGlyphs">Basement</text>
<text x="952.79" y="1397" font-size="26.3" font-family="'DejaVu Sans','Liberation Sans',sans-serif" class="s" textLength="218.42" lengthAdjust="spacingAndGlyphs">[1228.35 Sq ft]</text>
<text x="698.74" y="1489" font-size="21.8" font-family="'DejaVu Sans','Liberation Sans',sans-serif" class="s" textLength="193.3" lengthAdjust="spacingAndGlyphs">Storage/Laundry</text>
<text x="724.26" y="1520" font-size="21.8" font-family="'DejaVu Sans','Liberation Sans',sans-serif" class="s" textLength="140.47" lengthAdjust="spacingAndGlyphs">(unfinished)</text>
<text x="676.96" y="1584.4" font-size="21.8" font-family="'DejaVu Sans','Liberation Sans',sans-serif" class="s" textLength="44.3" lengthAdjust="spacingAndGlyphs">Clst</text>
<text transform="translate(848 1567) rotate(90)" x="-1.07" y="0" font-size="21" font-family="'DejaVu Sans','Liberation Sans',sans-serif" class="s" textLength="24.7" lengthAdjust="spacingAndGlyphs">dn</text>
<text transform="translate(931 1478) rotate(90)" x="-2" y="0" font-size="23" font-family="'DejaVu Sans','Liberation Sans',sans-serif" class="s" textLength="69.08" lengthAdjust="spacingAndGlyphs">Utility</text>
<text transform="translate(993.9 1463.1) rotate(90)" x="-2.16" y="0" font-size="22.5" font-family="'DejaVu Sans','Liberation Sans',sans-serif" class="s" textLength="29.82" lengthAdjust="spacingAndGlyphs">(t)</text>
<text transform="translate(1038 1550.4) rotate(-90)" x="-1.29" y="0" font-size="23" font-family="'DejaVu Sans','Liberation Sans',sans-serif" class="s" textLength="44.19" lengthAdjust="spacingAndGlyphs">Clst</text>
<text x="1086.71" y="1477" font-size="21.8" font-family="'DejaVu Sans','Liberation Sans',sans-serif" class="s" textLength="46.42" lengthAdjust="spacingAndGlyphs">N/C</text>
<text x="1059.58" y="1504.4" font-size="21.8" font-family="'DejaVu Sans','Liberation Sans',sans-serif" class="s" textLength="105.1" lengthAdjust="spacingAndGlyphs">Bedroom</text>
<text x="1060.71" y="1532" font-size="21.8" font-family="'DejaVu Sans','Liberation Sans',sans-serif" class="s" textLength="94.57" lengthAdjust="spacingAndGlyphs">13.2x10</text>
<text x="1064.22" y="1560" font-size="21.8" font-family="'DejaVu Sans','Liberation Sans',sans-serif" class="s" textLength="95.59" lengthAdjust="spacingAndGlyphs">(carpet)</text>
<text x="774.96" y="1663" font-size="21.8" font-family="'DejaVu Sans','Liberation Sans',sans-serif" class="s" textLength="117.15" lengthAdjust="spacingAndGlyphs">Rec Room</text>
<text x="774.16" y="1695" font-size="21.8" font-family="'DejaVu Sans','Liberation Sans',sans-serif" class="s" textLength="117.39" lengthAdjust="spacingAndGlyphs">25.3x13.3</text>
<text x="784.82" y="1725.6" font-size="21.8" font-family="'DejaVu Sans','Liberation Sans',sans-serif" class="s" textLength="95.39" lengthAdjust="spacingAndGlyphs">(carpet)</text>
<text x="1080.74" y="1643" font-size="21.8" font-family="'DejaVu Sans','Liberation Sans',sans-serif" class="s" textLength="45.99" lengthAdjust="spacingAndGlyphs">N/C</text>
<text x="1053.57" y="1669.4" font-size="21.8" font-family="'DejaVu Sans','Liberation Sans',sans-serif" class="s" textLength="105.72" lengthAdjust="spacingAndGlyphs">Bedroom</text>
<text x="1047.72" y="1697" font-size="21.8" font-family="'DejaVu Sans','Liberation Sans',sans-serif" class="s" textLength="115.93" lengthAdjust="spacingAndGlyphs">13.3x10.7</text>
<text x="1075.09" y="1724.4" font-size="21.8" font-family="'DejaVu Sans','Liberation Sans',sans-serif" class="s" textLength="59.8" lengthAdjust="spacingAndGlyphs">(cpt)</text>
<text transform="translate(1026.6 1740) rotate(-90)" x="-1.25" y="0" font-size="23" font-family="'DejaVu Sans','Liberation Sans',sans-serif" class="s" textLength="70.73" lengthAdjust="spacingAndGlyphs">Closet</text>
<text transform="translate(473.2 1719.2) rotate(-90)" x="-1.17" y="0" font-size="18.9" font-family="'DejaVu Sans','Liberation Sans',sans-serif" textLength="288.32" lengthAdjust="spacingAndGlyphs">Scope of Work is on our website</text>
<text transform="translate(495.7 1667) rotate(-90)" x="-1.06" y="0" font-size="18.8" font-family="'DejaVu Sans','Liberation Sans',sans-serif" textLength="224.52" lengthAdjust="spacingAndGlyphs">appraisaldimensions.com</text>
<text transform="translate(519.2 1719.2) rotate(-90)" x="-1.18" y="0" font-size="18.9" font-family="'DejaVu Sans','Liberation Sans',sans-serif" textLength="329.36" lengthAdjust="spacingAndGlyphs">Sadey Stillman, Cert. Res. Appraiser</text>
<text transform="translate(540.9 1617.4) rotate(-90)" x="-1" y="0" font-size="18.8" font-family="'DejaVu Sans','Liberation Sans',sans-serif" textLength="120.94" lengthAdjust="spacingAndGlyphs">Copyright (C)</text>
<text transform="translate(563.5 1608) rotate(-90)" x="-1.24" y="0" font-size="18.8" font-family="'DejaVu Sans','Liberation Sans',sans-serif" textLength="79.43" lengthAdjust="spacingAndGlyphs">03/2026</text>
</svg>
</body></html>
